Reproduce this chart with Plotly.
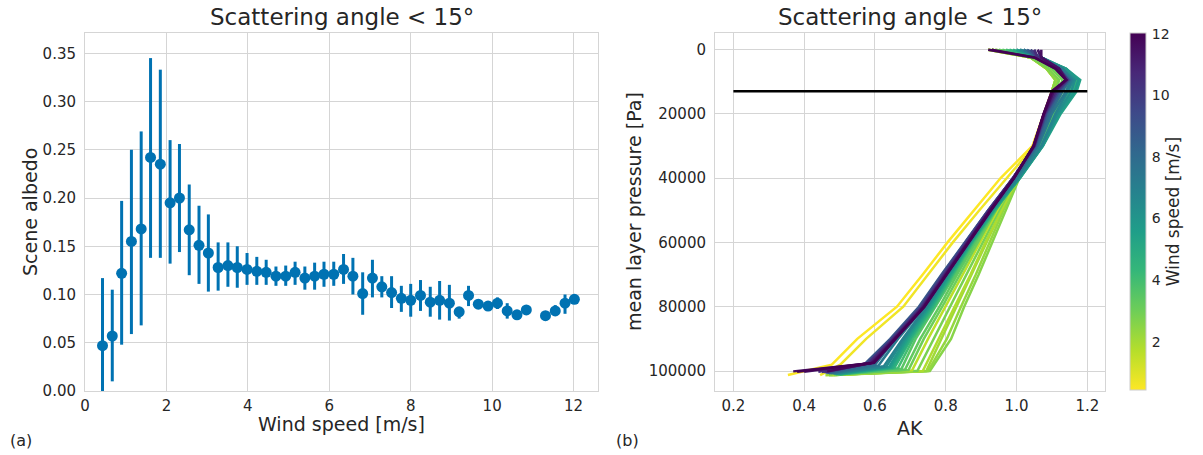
import plotly.graph_objects as go
from plotly.colors import sample_colorscale
import plotly.express as px

# ---------------- Panel (a) data ----------------
wind_speed = [0.43, 0.67, 0.90, 1.14, 1.38, 1.61, 1.85, 2.09, 2.32, 2.56,
              2.80, 3.03, 3.27, 3.51, 3.74, 3.98, 4.22, 4.45, 4.69, 4.93,
              5.16, 5.40, 5.64, 5.87, 6.11, 6.35, 6.58, 6.82, 7.06, 7.29,
              7.53, 7.77, 8.00, 8.24, 8.48, 8.71, 8.95, 9.19, 9.42, 9.66,
              9.90, 10.13, 10.37, 10.61, 10.84, 11.31, 11.55, 11.79, 12.02]
albedo = [0.047, 0.057, 0.122, 0.155, 0.168, 0.242, 0.235, 0.195, 0.200, 0.167,
          0.151, 0.143, 0.128, 0.130, 0.128, 0.126, 0.124, 0.123, 0.119, 0.119,
          0.123, 0.117, 0.119, 0.121, 0.121, 0.126, 0.119, 0.101, 0.117, 0.108,
          0.102, 0.096, 0.094, 0.099, 0.092, 0.094, 0.091, 0.082, 0.099, 0.090,
          0.088, 0.091, 0.083, 0.079, 0.084, 0.078, 0.083, 0.091, 0.095]
albedo_hi = [0.117, 0.105, 0.197, 0.250, 0.269, 0.345, 0.333, 0.260, 0.256, 0.214,
             0.192, 0.183, 0.154, 0.154, 0.150, 0.143, 0.139, 0.136, 0.129, 0.130,
             0.134, 0.129, 0.133, 0.134, 0.134, 0.142, 0.138, 0.123, 0.136, 0.119,
             0.119, 0.109, 0.111, 0.115, 0.108, 0.114, 0.110, 0.087, 0.109, 0.095,
             0.091, 0.097, 0.091, 0.082, 0.088, 0.082, 0.089, 0.100, 0.099]
albedo_lo = [0.000, 0.010, 0.048, 0.059, 0.068, 0.138, 0.138, 0.132, 0.144, 0.120,
             0.111, 0.103, 0.104, 0.108, 0.107, 0.110, 0.110, 0.110, 0.109, 0.109,
             0.110, 0.105, 0.105, 0.108, 0.109, 0.111, 0.100, 0.079, 0.097, 0.097,
             0.086, 0.082, 0.077, 0.083, 0.077, 0.074, 0.073, 0.075, 0.088, 0.085,
             0.084, 0.085, 0.075, 0.075, 0.079, 0.075, 0.078, 0.080, 0.091]

# ---------------- Panel (b) data ----------------
pressure_levels = [100, 2500, 6000, 9500, 13000, 20000, 30000, 40000,
                   50000, 60000, 70000, 80000, 90000]
curve_wind = [0.43, 0.67, 2.09, 2.56, 2.32, 1.85, 2.80, 1.61, 3.03, 3.27,
              3.51, 3.98, 4.45, 4.93, 5.40, 5.87, 6.35, 6.82, 7.29, 7.77,
              8.24, 8.71, 9.19, 9.66, 10.13, 10.61, 10.84, 11.31, 11.55, 11.79, 12.02]
curve_ak = [
    [0.92, 1.04, 1.085, 1.11, 1.10, 1.078, 1.045, 0.955, 0.880, 0.805, 0.735, 0.662, 0.550],
    [0.93, 1.04, 1.085, 1.11, 1.10, 1.078, 1.050, 0.972, 0.895, 0.820, 0.750, 0.680, 0.575],
    [0.92, 1.04, 1.085, 1.11, 1.10, 1.085, 1.060, 1.000, 0.958, 0.915, 0.872, 0.830, 0.787],
    [0.92, 1.04, 1.085, 1.11, 1.10, 1.085, 1.062, 1.008, 0.970, 0.932, 0.893, 0.852, 0.815],
    [0.93, 1.04, 1.09, 1.115, 1.105, 1.09, 1.062, 1.005, 0.963, 0.925, 0.885, 0.843, 0.803],
    [0.93, 1.04, 1.09, 1.12, 1.11, 1.09, 1.063, 1.003, 0.957, 0.912, 0.870, 0.825, 0.780],
    [0.93, 1.04, 1.09, 1.12, 1.11, 1.092, 1.063, 1.000, 0.951, 0.905, 0.858, 0.812, 0.765],
    [0.94, 1.05, 1.10, 1.13, 1.12, 1.095, 1.064, 0.998, 0.946, 0.897, 0.848, 0.800, 0.750],
    [0.94, 1.05, 1.10, 1.13, 1.12, 1.098, 1.064, 0.996, 0.942, 0.890, 0.840, 0.790, 0.738],
    [0.95, 1.05, 1.11, 1.14, 1.13, 1.10, 1.065, 0.995, 0.938, 0.885, 0.832, 0.782, 0.728],
    [0.96, 1.05, 1.12, 1.15, 1.14, 1.105, 1.068, 1.005, 0.940, 0.882, 0.826, 0.772, 0.715],
    [0.97, 1.06, 1.12, 1.16, 1.15, 1.11, 1.070, 1.007, 0.940, 0.878, 0.821, 0.768, 0.708],
    [0.98, 1.06, 1.13, 1.17, 1.16, 1.115, 1.072, 1.008, 0.938, 0.875, 0.818, 0.764, 0.702],
    [0.99, 1.06, 1.14, 1.175, 1.165, 1.12, 1.074, 1.010, 0.936, 0.873, 0.815, 0.760, 0.698],
    [1.00, 1.07, 1.14, 1.18, 1.17, 1.125, 1.075, 1.010, 0.934, 0.871, 0.812, 0.756, 0.693],
    [1.00, 1.07, 1.14, 1.175, 1.165, 1.12, 1.074, 1.008, 0.932, 0.869, 0.809, 0.752, 0.688],
    [1.01, 1.07, 1.13, 1.165, 1.155, 1.115, 1.072, 1.006, 0.930, 0.867, 0.806, 0.748, 0.683],
    [1.01, 1.07, 1.13, 1.16, 1.145, 1.11, 1.070, 1.004, 0.928, 0.865, 0.803, 0.745, 0.678],
    [1.02, 1.07, 1.13, 1.155, 1.14, 1.10, 1.062, 0.998, 0.928, 0.864, 0.801, 0.740, 0.665],
    [1.02, 1.07, 1.12, 1.15, 1.13, 1.095, 1.058, 0.995, 0.926, 0.861, 0.797, 0.735, 0.658],
    [1.03, 1.07, 1.12, 1.15, 1.125, 1.09, 1.055, 0.993, 0.923, 0.857, 0.792, 0.729, 0.650],
    [1.03, 1.06, 1.12, 1.145, 1.12, 1.085, 1.053, 0.991, 0.920, 0.853, 0.788, 0.724, 0.643],
    [1.04, 1.06, 1.12, 1.145, 1.12, 1.083, 1.052, 0.990, 0.920, 0.854, 0.790, 0.727, 0.646],
    [1.04, 1.06, 1.12, 1.145, 1.115, 1.082, 1.051, 0.990, 0.921, 0.856, 0.792, 0.730, 0.648],
    [1.05, 1.06, 1.12, 1.145, 1.115, 1.08, 1.050, 0.990, 0.922, 0.858, 0.794, 0.732, 0.650],
    [1.05, 1.06, 1.12, 1.14, 1.11, 1.08, 1.050, 0.991, 0.923, 0.860, 0.796, 0.734, 0.652],
    [1.06, 1.07, 1.12, 1.14, 1.11, 1.078, 1.050, 0.991, 0.924, 0.861, 0.797, 0.735, 0.653],
    [1.06, 1.07, 1.12, 1.14, 1.105, 1.078, 1.049, 0.992, 0.925, 0.862, 0.799, 0.737, 0.655],
    [1.07, 1.07, 1.12, 1.14, 1.105, 1.077, 1.049, 0.992, 0.926, 0.863, 0.800, 0.738, 0.656],
    [0.93, 1.05, 1.11, 1.14, 1.10, 1.077, 1.048, 0.993, 0.927, 0.864, 0.801, 0.739, 0.657],
    [0.92, 1.05, 1.11, 1.14, 1.10, 1.077, 1.048, 0.993, 0.928, 0.865, 0.802, 0.740, 0.658],
]
bend_p = [98000, 98000, 100000, 100000, 100000, 100000, 99900, 99800, 99700, 99500,
          99300, 99100, 99000, 98900, 98800, 98700, 98600, 98500, 98300, 98100,
          97900, 97700, 97700, 97700, 97600, 97600, 97500, 97500, 97500, 97400, 97400]
bend_ak = [0.478, 0.502, 0.745, 0.755, 0.750, 0.735, 0.720, 0.705, 0.695, 0.685,
           0.675, 0.665, 0.655, 0.650, 0.645, 0.640, 0.632, 0.625, 0.610, 0.600,
           0.585, 0.572, 0.575, 0.578, 0.580, 0.583, 0.586, 0.590, 0.593, 0.596, 0.598]
surf_p = [101250, 101250, 101300, 101300, 101250, 101250, 101200, 101200, 101150, 101100,
          101100, 101050, 101000, 101000, 100950, 100900, 100850, 100800, 100700, 100650,
          100600, 100500, 100400, 100300, 100300, 100200, 100200, 100200, 100100, 100100, 100200]
surf_ak = [0.354, 0.445, 0.460, 0.470, 0.475, 0.480, 0.485, 0.490, 0.490, 0.490,
           0.495, 0.500, 0.500, 0.500, 0.495, 0.490, 0.485, 0.480, 0.475, 0.470,
           0.465, 0.460, 0.465, 0.455, 0.450, 0.440, 0.460, 0.400, 0.369, 0.465, 0.380]
ref_line_p = 13000
ref_line_ak = [0.2, 1.2]

cmin, cmax = 0.43, 12.02

FONT = "DejaVu Sans"
TXT = "#262626"
GRID = "#d5d5d5"
BLUE = "#0072B2"

fig = go.Figure()

fig.add_trace(go.Scatter(
    x=wind_speed, y=albedo, mode="markers",
    marker=dict(size=11, color=BLUE),
    error_y=dict(type="data", symmetric=False,
                 array=[h - a for h, a in zip(albedo_hi, albedo)],
                 arrayminus=[a - l for a, l in zip(albedo, albedo_lo)],
                 color=BLUE, thickness=3, width=0),
    xaxis="x", yaxis="y", showlegend=False))

for w, ak, pb, ab, ps, a_s in zip(curve_wind, curve_ak, bend_p, bend_ak, surf_p, surf_ak):
    t = 1 - (w - cmin) / (cmax - cmin)
    col = sample_colorscale(px.colors.sequential.Viridis, [max(0, min(1, t))])[0]
    fig.add_trace(go.Scatter(
        x=ak + [ab, a_s], y=pressure_levels + [pb, ps], mode="lines",
        line=dict(color=col, width=2.5), xaxis="x2", yaxis="y2", showlegend=False))

fig.add_trace(go.Scatter(
    x=ref_line_ak, y=[ref_line_p, ref_line_p], mode="lines",
    line=dict(color="black", width=2.5), xaxis="x2", yaxis="y2", showlegend=False))

fig.add_trace(go.Scatter(
    x=[None], y=[None], mode="markers", xaxis="x2", yaxis="y2", showlegend=False,
    marker=dict(color=[cmin], cmin=cmin, cmax=cmax, colorscale="Viridis",
                reversescale=True, showscale=True,
                colorbar=dict(x=1130 / 1203, xanchor="left", xpad=0, ypad=0,
                              y=1 - 211.6 / 455, yanchor="middle",
                              len=357 / 455, lenmode="fraction", thickness=16,
                              outlinecolor="#cccccc", outlinewidth=1,
                              tickvals=[2, 4, 6, 8, 10, 12], ticks="outside", ticklen=3,
                              tickcolor="rgba(0,0,0,0)",
                              tickfont=dict(family=FONT, size=14, color=TXT),
                              title=dict(text="Wind speed [m/s]", side="right",
                                         font=dict(family=FONT, size=17, color=TXT))))))

axis_common = dict(showgrid=True, gridcolor=GRID, gridwidth=1, zeroline=False,
                   showline=True, linecolor=GRID, linewidth=1, mirror=True,
                   ticks="outside", tickcolor="rgba(0,0,0,0)", automargin=False,
                   tickfont=dict(family=FONT, size=15, color=TXT))

ytop = 1 - 33 / 455
ybot = 1 - 391 / 455

fig.update_layout(
    width=1203, height=455, margin=dict(l=0, r=0, t=0, b=0, autoexpand=False),
    paper_bgcolor="white", plot_bgcolor="white",
    font=dict(family=FONT, color=TXT),
    xaxis=dict(domain=[85 / 1203, 598 / 1203], range=[0, 12.6], tickvals=[0, 2, 4, 6, 8, 10, 12],
               anchor="y", ticklen=1, **axis_common),
    yaxis=dict(domain=[ybot, ytop], range=[0, 0.371], tickvals=[0, 0.05, 0.1, 0.15, 0.2, 0.25, 0.3, 0.35],
               tickformat=".2f", anchor="x", ticklen=5, **axis_common),
    xaxis2=dict(domain=[715 / 1203, 1105 / 1203], range=[0.148, 1.25],
                tickvals=[0.2, 0.4, 0.6, 0.8, 1.0, 1.2], tickformat=".1f", anchor="y2",
                ticklen=1, **axis_common),
    yaxis2=dict(domain=[ybot, ytop], range=[106200, -5100],
                tickvals=[0, 20000, 40000, 60000, 80000, 100000], tickformat="d",
                anchor="x2", ticklen=5, **axis_common),
)

def ann(text, x, y, size, angle=0, xanchor="center"):
    fig.add_annotation(text=text, x=x / 1203, y=1 - y / 455, xref="paper", yref="paper",
                       showarrow=False, textangle=angle, xanchor=xanchor, yanchor="middle",
                       font=dict(family=FONT, size=size, color=TXT))

ann("Scattering angle &lt; 15°", 341.5, 17, 23)
ann("Scattering angle &lt; 15°", 910, 17, 23)
ann("Wind speed [m/s]", 341.5, 424, 19)
ann("AK", 910, 428, 19)
ann("Scene albedo", 30, 212, 19, angle=-90)
ann("mean layer pressure [Pa]", 634, 212, 19, angle=-90)
ann("(a)", 8, 440, 16, xanchor="left")
ann("(b)", 614, 440, 16, xanchor="left")

fig.write_html("out.html", config={"displayModeBar": False},
               post_script="document.body.style.margin='0px';document.body.style.overflow='hidden';")
